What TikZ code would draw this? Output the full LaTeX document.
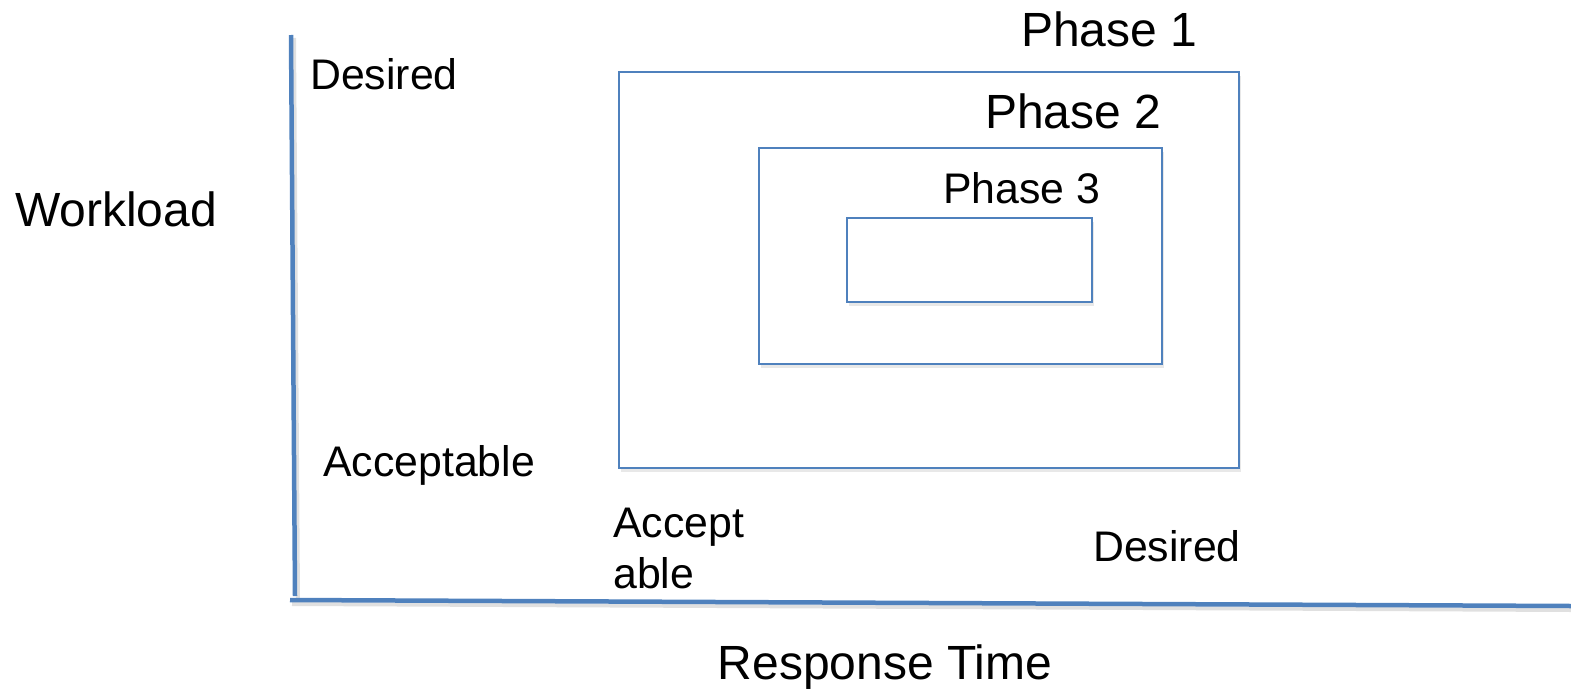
\documentclass[tikz,border=0pt]{standalone}
\usepackage{fontspec}
\setmainfont{Liberation Sans}
\usetikzlibrary{shadows}
\definecolor{axblue}{HTML}{4F81BD}
\tikzset{
  box/.style={draw=axblue, line width=1.5pt, fill=white, inner sep=0pt,
    drop shadow={opacity=0.18, shadow xshift=2pt, shadow yshift=-4pt}},
  axis/.style={draw=axblue, line width=4.5pt},
  axshadow/.style={draw=black, opacity=0.12, line width=4pt},
  small/.style={inner sep=0pt, font=\fontsize{42.8}{50}\selectfont},
  big/.style={inner sep=0pt, font=\fontsize{48}{55}\selectfont}
}
\begin{document}
\begin{tikzpicture}[x=1pt,y=-1pt]
\useasboundingbox (0,0) rectangle (1571,688);
% axes
\coordinate (ytop) at (291,35);
\coordinate (ybot) at (295,596);
\coordinate (xleft) at (290,600);
\coordinate (xright) at (1571,606);
\draw[axshadow] ([shift={(3,3)}]ytop) -- ([shift={(3,3)}]ybot);
\draw[axshadow] ([shift={(2,4)}]xleft) -- ([shift={(0,4)}]xright);
\draw[axis] (ytop) -- (ybot);
\draw[axis] (xleft) -- (xright);
% boxes
\node[box, minimum width=620pt, minimum height=396pt] (p1) at (929,270) {};
\node[box, minimum width=403pt, minimum height=216pt] (p2) at (960.5,256) {};
\node[box, minimum width=245pt, minimum height=84pt] (p3) at (969.5,260) {};
% labels
\node[big, anchor=base west] (l1) at (1021,46) {Phase 1};
\node[big, anchor=base west] (l2) at (985,128) {Phase 2};
\node[small, anchor=base west] (l3) at (943,203) {Phase 3};
\node[big, anchor=base west] (wl) at (15,226) {Workload};
\node[small, anchor=base west] (dt) at (310,89) {Desired};
\node[small, anchor=base west] (ac) at (323,476) {Acceptable};
\node[small, anchor=base west] (ac1) at (613,537) {Accept};
\node[small, anchor=base west] (ac2) at (613,588) {able};
\node[small, anchor=base west] (db) at (1093,561) {Desired};
\node[big, anchor=base] (rt) at (885,679) {Response Time};
\end{tikzpicture}
\end{document}
